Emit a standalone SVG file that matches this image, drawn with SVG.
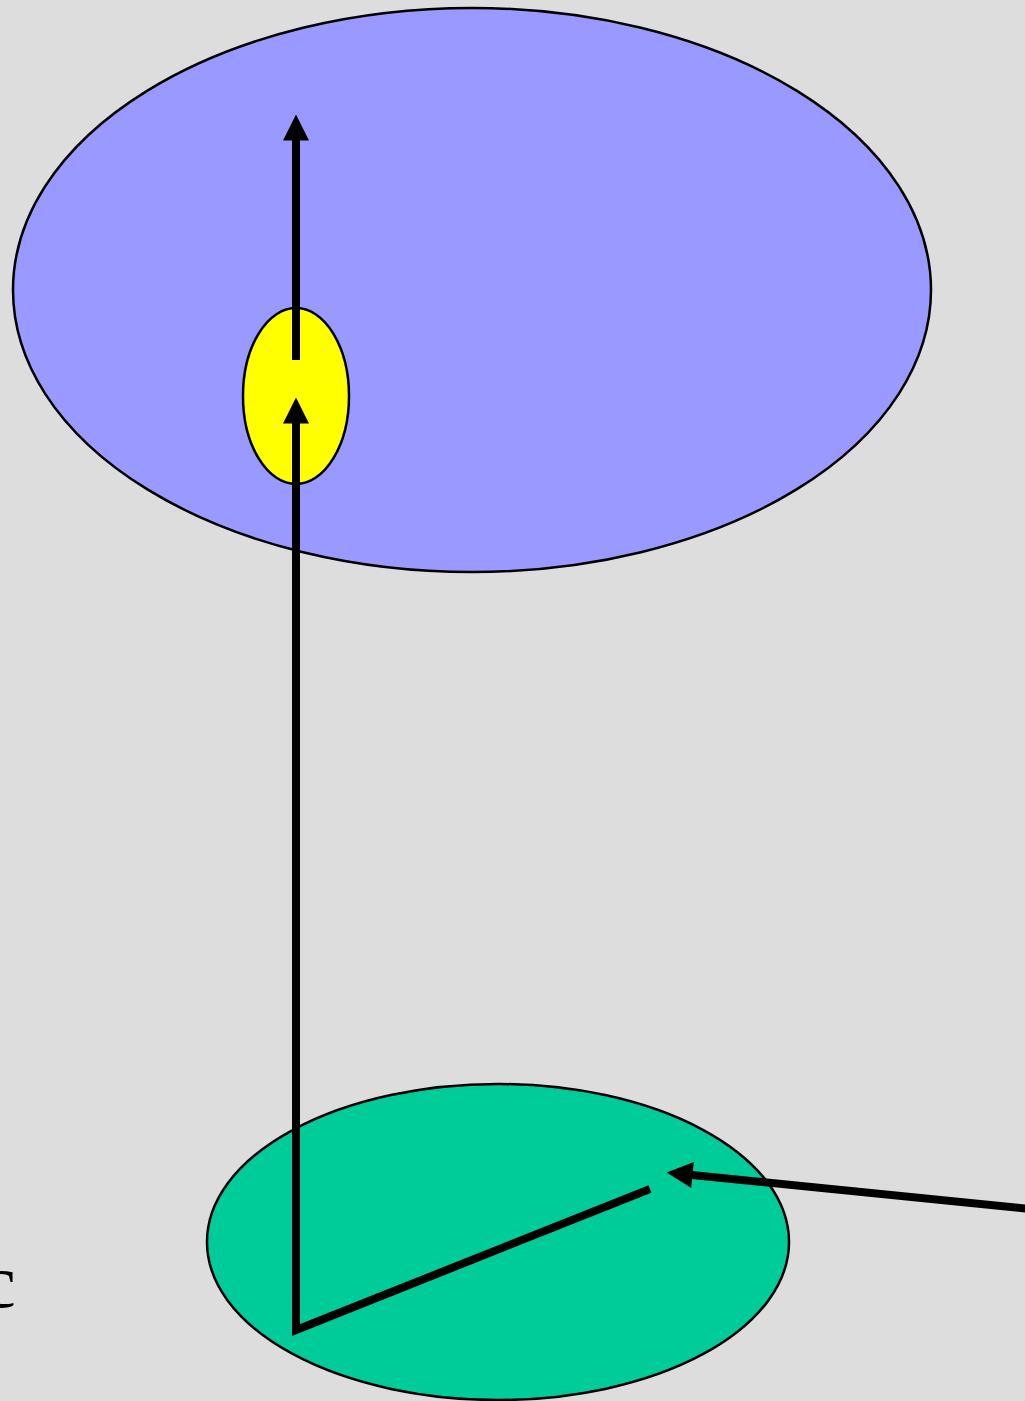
<svg xmlns="http://www.w3.org/2000/svg" width="1025" height="1401" viewBox="0 0 1025 1401">
<style>
.node{stroke:#000;stroke-width:2.5}
.conn{fill:none;stroke:#000;stroke-width:8}
.lbl{font-family:"Liberation Serif","Times New Roman",serif;font-size:76px;fill:#000}
</style>
<defs>
<marker id="ah" markerUnits="userSpaceOnUse" markerWidth="26" markerHeight="26" viewBox="0 0 26 26" refX="0.5" refY="13" orient="auto" overflow="visible">
<path d="M0,0 L26,13 L0,26 Z" fill="#000"/>
</marker>
</defs>
<rect x="0" y="0" width="1025" height="1401" fill="#DDDDDD"/>
<g id="blue-ellipse"><ellipse class="node" cx="472" cy="290" rx="459" ry="282" fill="#9999FF"/></g>
<g id="yellow-ellipse"><ellipse class="node" cx="296" cy="396" rx="53" ry="88" fill="#FFFF00"/></g>
<g id="green-ellipse"><ellipse class="node" cx="498" cy="1242" rx="291" ry="158" fill="#00CC99"/></g>
<g id="label-c"><text class="lbl" x="-18" y="1307">c</text></g>
<g id="connectors">
<line class="conn" x1="296" y1="360" x2="296" y2="140" marker-end="url(#ah)"/>
<path class="conn" d="M650,1189 L296,1330 L296,423" marker-end="url(#ah)" stroke-linejoin="miter"/>
<line class="conn" x1="1040" y1="1210" x2="692" y2="1175" marker-end="url(#ah)"/>
</g>
</svg>
